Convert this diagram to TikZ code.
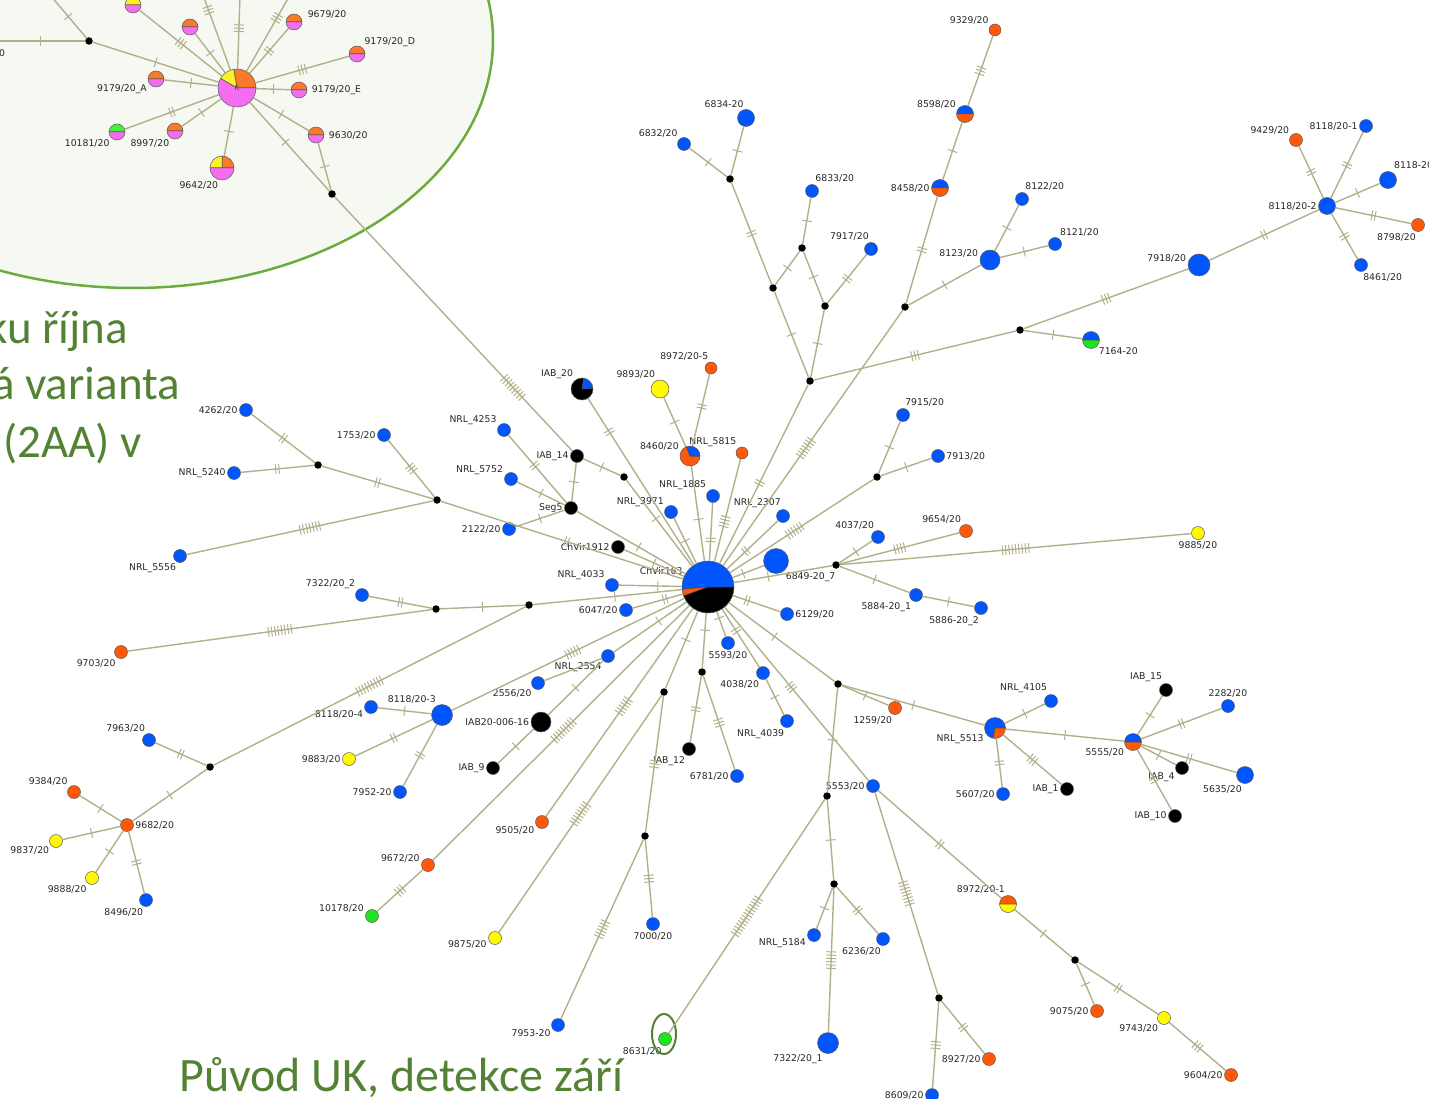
\documentclass[tikz,border=0pt]{standalone}
\usepackage{fontspec}
\setmainfont{DejaVu Sans}
\newfontfamily\slidefont{Carlito}
\usetikzlibrary{decorations.markings}

\definecolor{hblue}{RGB}{0,85,255}
\definecolor{horange}{RGB}{255,88,8}
\definecolor{hyellow}{RGB}{255,250,0}
\definecolor{hgreen}{RGB}{30,230,30}
\definecolor{korange}{RGB}{250,122,45}
\definecolor{kpink}{RGB}{242,110,238}
\definecolor{kyellow}{RGB}{250,240,40}
\definecolor{kgreen}{RGB}{70,240,60}
\definecolor{linkc}{RGB}{178,176,138}
\definecolor{slidegreen}{RGB}{84,130,53}
\definecolor{ellfill}{RGB}{246,248,242}
\definecolor{ellline}{RGB}{108,172,62}

% one coloured sector of a haplotype circle
\newcommand{\slice}[3]{\filldraw[fill=#1, draw=black!70, line width=.5pt] (path picture bounding box.center) -- ++(#2:60pt) arc[start angle=#2, end angle=#3, radius=60pt] -- cycle;}

\begin{document}
\begin{tikzpicture}[x=1pt, y=-1pt,
    every edge/.style={draw=linkc, line width=1.4pt},
    tickline/.style={draw=linkc, line width=1pt},
    mut/.style 2 args={postaction={decorate, decoration={markings, mark=at position #2 with {\foreach \k in {1,...,#1} {\draw[tickline] ({(\k-(#1+1)/2)*3.3},-5) -- ++(0,10);}}}}},
    hap/.style={circle, draw=black!65, line width=.5pt, inner sep=0pt, minimum size=13pt},
    hb/.style={hap, fill=hblue},
    ho/.style={hap, fill=horange},
    hy/.style={hap, fill=hyellow},
    hg/.style={hap, fill=hgreen},
    hk/.style={hap, fill=black},
    half/.style 2 args={hap, path picture={\slice{#1}{0}{180}\slice{#2}{180}{360}}},
    med/.style={circle, fill=black, inner sep=0pt, minimum size=7.5pt},
    lbl/.style={font=\fontsize{9.3}{10}\selectfont, text=black!85, inner sep=1.5pt},
    slide/.style={font=\slidefont\fontsize{48}{52}\selectfont, text=slidegreen, inner sep=0pt}]

\useasboundingbox (0,0) rectangle (1429,1099);

% highlighted cluster
\draw[fill=ellfill, draw=ellline, line width=2.5pt] (133,40) ellipse [x radius=360, y radius=248];

\node[hap, minimum size=38pt, font=\fontsize{7}{7}\selectfont, text=black!70, path picture={\slice{korange}{0}{100}\slice{kyellow}{100}{150}\slice{kpink}{150}{360}}] (K) at (237,88) {K};
\node[half={kyellow}{kpink}, minimum size=16pt, label={[lbl, label distance=10pt]10:9673/20}] (n9673) at (133,5) {};
\node[half={korange}{kpink}, minimum size=16pt] (ne1) at (190,27) {};
\node[half={korange}{kpink}, minimum size=16pt, label={[lbl, label distance=4pt]10:9679/20}] (n9679) at (294,22) {};
\node[half={korange}{kpink}, minimum size=16pt, label={[lbl]45:9179/20\_D}] (n9179d) at (357,54) {};
\node[half={korange}{kpink}, minimum size=16pt, label={[lbl, label distance=3pt]0:9179/20\_E}] (n9179e) at (299,90) {};
\node[half={korange}{kpink}, minimum size=16pt, label={[lbl, label distance=3pt]0:9630/20}] (n9630) at (316,135) {};
\node[hap, minimum size=24pt, path picture={\slice{korange}{0}{90}\slice{kyellow}{90}{180}\slice{kpink}{180}{360}}, label={[lbl]-100:9642/20}] (n9642) at (222,168) {};
\node[half={korange}{kpink}, minimum size=16pt, label={[lbl]-120:8997/20}] (n8997) at (175,131) {};
\node[half={kgreen}{kpink}, minimum size=16pt, label={[lbl]-135:10181/20}] (n10181) at (117,132) {};
\node[half={korange}{kpink}, minimum size=16pt, label={[lbl]-155:9179/20\_A}] (n9179a) at (156,79) {};
\node[med] (mk0) at (89,41) {};
\node[med] (mk1) at (332,194) {};
\node[lbl] (frag) at (2,53) {0};
\coordinate (o1) at (-5,41);
\coordinate (o2) at (50,-5);
\coordinate (o3) at (203,-5);
\coordinate (o4) at (240,-5);
\coordinate (o5) at (290,-5);

% central haplotype and its neighbours
\node[hap, minimum size=52pt, path picture={\slice{hblue}{0}{185}\slice{horange}{185}{200}\slice{black}{200}{360}}, label={[lbl]155:ChVir163}] (hub) at (708,587) {};
\node[hap, minimum size=22pt, path picture={\slice{black}{80}{365}\slice{hblue}{5}{80}}, label={[lbl]130:IAB\_20}] (nIAB20) at (582,389) {};
\node[hy, minimum size=18pt, label={[lbl]110:9893/20}] (n9893) at (660,389) {};
\node[ho, minimum size=12pt, label={[lbl]100:8972/20-5}] (n89725) at (711,368) {};
\node[hap, minimum size=20pt, path picture={\slice{horange}{110}{360}\slice{hblue}{0}{110}}, label={[lbl]160:8460/20}] (n8460) at (690,456) {};
\node[ho, minimum size=12pt, label={[lbl]130:NRL\_5815}] (n5815) at (742,453) {};
\node[hk, label={[lbl]180:IAB\_14}] (nIAB14) at (577,456) {};
\node[med] (mIAB) at (624,477) {};
\node[hk, label={[lbl]180:Seg5}] (nSeg5) at (571,508) {};
\node[hb, label={[lbl]150:NRL\_4253}] (n4253) at (504,430) {};
\node[hb, label={[lbl]160:NRL\_5752}] (n5752) at (511,479) {};
\node[hb, label={[lbl]180:2122/20}] (n2122) at (509,529) {};
\node[hb, label={[lbl]145:NRL\_3971}] (n3971) at (671,512) {};
\node[hb, label={[lbl]140:NRL\_1885}] (n1885) at (713,496) {};
\node[hk, label={[lbl]180:ChVir1912}] (nCh1912) at (618,547) {};
\node[hb, label={[lbl]150:NRL\_4033}] (n4033) at (612,585) {};
\node[hb, label={[lbl]180:6047/20}] (n6047) at (626,610) {};
\node[hb, label={[lbl]95:NRL\_2307}] (n2307) at (783,516) {};
\node[hb, minimum size=25pt, label={[lbl]-50:6849-20\_7}] (n6849) at (776,561) {};
\node[hb, label={[lbl]0:6129/20}] (n6129) at (787,614) {};
\node[hb, label={[lbl]-90:5593/20}] (n5593) at (728,643) {};

% upper branches
\node[med] (mA) at (810,381) {};
\node[med] (mB) at (773,288) {};
\node[med] (mC) at (730,179) {};
\node[med] (mD) at (802,248) {};
\node[med] (mE) at (825,306) {};
\node[med] (mF) at (905,307) {};
\node[med] (mG) at (1020,330) {};
\node[hb, label={[lbl]135:6832/20}] (n6832) at (684,144) {};
\node[hb, minimum size=17pt, label={[lbl]95:6834-20}] (n6834) at (746,118) {};
\node[hb, label={[lbl]75:6833/20}] (n6833) at (812,191) {};
\node[hb, label={[lbl]95:7917/20}] (n7917) at (871,249) {};
\node[half={hblue}{horange}, minimum size=17pt, label={[lbl]180:8458/20}] (n8458) at (940,188) {};
\node[half={hblue}{horange}, minimum size=17pt, label={[lbl]150:8598/20}] (n8598) at (965,114) {};
\node[ho, minimum size=12pt, label={[lbl]140:9329/20}] (n9329) at (995,30) {};
\node[hb, minimum size=20pt, label={[lbl]175:8123/20}] (n8123) at (990,260) {};
\node[hb, label={[lbl]75:8122/20}] (n8122) at (1022,199) {};
\node[hb, label={[lbl]60:8121/20}] (n8121) at (1055,244) {};
\node[half={hblue}{hgreen}, minimum size=17pt, label={[lbl]-45:7164-20}] (n7164) at (1091,340) {};
\node[hb, minimum size=22pt, label={[lbl]175:7918/20}] (n7918) at (1199,265) {};
\node[hb, minimum size=17pt, label={[lbl]180:8118/20-2}] (n8118b) at (1327,206) {};
\node[ho, label={[lbl]140:9429/20}] (n9429) at (1296,140) {};
\node[hb, label={[lbl]180:8118/20-1}] (n8118a) at (1366,126) {};
\node[hb, minimum size=17pt, label={[lbl]60:8118-20\_6}] (n8118f) at (1388,180) {};
\node[ho, label={[lbl]-95:8798/20}] (n8798) at (1418,225) {};
\node[hb, label={[lbl]-85:8461/20}] (n8461) at (1361,265) {};

% right branches
\node[med] (m877) at (877,477) {};
\node[hb, label={[lbl]85:7915/20}] (n7915) at (903,415) {};
\node[hb, label={[lbl]0:7913/20}] (n7913) at (938,456) {};
\node[med] (m836) at (836,565) {};
\node[hb, label={[lbl]110:4037/20}] (n4037) at (878,537) {};
\node[ho, label={[lbl]120:9654/20}] (n9654) at (966,531) {};
\node[hy, label={[lbl]-90:9885/20}] (n9885) at (1198,533) {};
\node[hb, label={[lbl]-120:5884-20\_1}] (n5884) at (916,595) {};
\node[hb, label={[lbl]-95:5886-20\_2}] (n5886) at (981,608) {};

% left branches
\node[med] (mH) at (437,500) {};
\node[med] (mI) at (318,465) {};
\node[hb, label={[lbl]180:4262/20}] (n4262) at (246,410) {};
\node[hb, label={[lbl]180:NRL\_5240}] (n5240) at (234,473) {};
\node[hb, label={[lbl]180:1753/20}] (n1753) at (384,435) {};
\node[hb, label={[lbl]-110:NRL\_5556}] (n5556) at (180,556) {};
\node[med] (mJ) at (436,609) {};
\node[med] (mK2) at (529,605) {};
\node[hb, label={[lbl]140:7322/20\_2}] (n7322b) at (362,595) {};
\node[ho, label={[lbl]-125:9703/20}] (n9703) at (121,652) {};
\node[med] (mL) at (210,767) {};
\node[hb, label={[lbl]110:7963/20}] (n7963) at (149,740) {};
\node[ho, label={[lbl]0:9682/20}] (n9682) at (127,825) {};
\node[ho, label={[lbl]135:9384/20}] (n9384) at (74,792) {};
\node[hy, label={[lbl]-140:9837/20}] (n9837) at (56,841) {};
\node[hy, label={[lbl]-125:9888/20}] (n9888) at (92,878) {};
\node[hb, label={[lbl]-100:8496/20}] (n8496) at (146,900) {};
\node[hb, minimum size=21pt, label={[lbl]115:8118/20-3}] (n8118c) at (442,715) {};
\node[hb, label={[lbl]-160:8118/20-4}] (n8118d) at (371,707) {};
\node[hy, label={[lbl]180:9883/20}] (n9883) at (349,759) {};
\node[hb, label={[lbl]180:7952-20}] (n7952) at (400,792) {};

% lower branches
\node[hb, label={[lbl]-135:NRL\_2554}] (n2554) at (608,656) {};
\node[hb, label={[lbl]-135:2556/20}] (n2556) at (538,683) {};
\node[hk, minimum size=20pt, label={[lbl]180:IAB20-006-16}] (nIAB2016) at (541,722) {};
\node[hk, label={[lbl]180:IAB\_9}] (nIAB9) at (493,768) {};
\node[ho, label={[lbl]-155:9505/20}] (n9505) at (542,822) {};
\node[ho, label={[lbl]170:9672/20}] (n9672) at (428,865) {};
\node[hg, label={[lbl]165:10178/20}] (n10178) at (372,916) {};
\node[hy, label={[lbl]-170:9875/20}] (n9875) at (495,938) {};
\node[med] (m664) at (664,692) {};
\node[med] (m645) at (645,836) {};
\node[hb, label={[lbl]-90:7000/20}] (n7000) at (653,924) {};
\node[hb, label={[lbl]-150:7953-20}] (n7953) at (558,1025) {};
\node[med] (m702) at (702,672) {};
\node[hk, label={[lbl]-110:IAB\_12}] (nIAB12) at (689,749) {};
\node[hb, label={[lbl]180:6781/20}] (n6781) at (737,776) {};
\node[hb, label={[lbl]-110:4038/20}] (n4038) at (763,673) {};
\node[hb, label={[lbl]-100:NRL\_4039}] (n4039) at (787,721) {};
\node[med] (m838) at (838,684) {};
\node[ho, label={[lbl]-100:1259/20}] (n1259) at (895,708) {};
\node[hb, label={[lbl]180:5553/20}] (n5553) at (873,786) {};
\node[med] (m827) at (827,796) {};
\node[hg, label={[lbl]-105:8631/20}] (n8631) at (665,1039) {};
\draw[slidegreen, line width=2pt] (664,1034) ellipse [x radius=12, y radius=20];
\node[med] (m834) at (834,884) {};
\node[hb, label={[lbl]-165:NRL\_5184}] (n5184) at (814,935) {};
\node[hb, label={[lbl]-95:6236/20}] (n6236) at (883,939) {};
\node[hb, minimum size=21pt, label={[lbl]-110:7322/20\_1}] (n7322a) at (828,1043) {};
\node[med] (m939) at (939,998) {};
\node[hb, label={[lbl]180:8609/20}] (n8609) at (932,1095) {};
\node[ho, label={[lbl]180:8927/20}] (n8927) at (989,1059) {};
\node[half={horange}{hyellow}, minimum size=17pt, label={[lbl]100:8972/20-1}] (n89721) at (1008,904) {};
\node[med] (m1075) at (1075,960) {};
\node[ho, label={[lbl]180:9075/20}] (n9075) at (1097,1011) {};
\node[hy, label={[lbl]-130:9743/20}] (n9743) at (1164,1018) {};
\node[ho, label={[lbl]180:9604/20}] (n9604) at (1231,1075) {};
\node[hap, minimum size=21pt, path picture={\slice{hblue}{0}{260}\slice{horange}{260}{360}}, label={[lbl]-155:NRL\_5513}] (n5513) at (995,728) {};
\node[hb, label={[lbl]110:NRL\_4105}] (n4105) at (1051,701) {};
\node[hb, label={[lbl]180:5607/20}] (n5607) at (1003,794) {};
\node[hk, label={[lbl]180:IAB\_1}] (nIAB1) at (1067,789) {};
\node[half={hblue}{horange}, minimum size=17pt, label={[lbl]-145:5555/20}] (n5555) at (1133,742) {};
\node[hk, label={[lbl]110:IAB\_15}] (nIAB15) at (1166,690) {};
\node[hb, label={[lbl]90:2282/20}] (n2282) at (1228,706) {};
\node[hk, label={[lbl]-150:IAB\_4}] (nIAB4) at (1182,768) {};
\node[hb, minimum size=17pt, label={[lbl]-100:5635/20}] (n5635) at (1245,775) {};
\node[hk, label={[lbl]180:IAB\_10}] (nIAB10) at (1175,816) {};

% slide text
\node[slide, anchor=base west, font=\slidefont\fontsize{47}{50}\selectfont] (side1) at (-14,343) {ku října};
\node[slide, anchor=base west, font=\slidefont\fontsize{47}{50}\selectfont] (side2) at (-8,399) {á varianta};
\node[slide, anchor=base west, font=\slidefont\fontsize{47}{50}\selectfont] (side3) at (3,457) {(2AA) v};
\node[slide, anchor=base west] (cap) at (179,1091) {Původ UK, detekce září};

% mutational steps
\path
    (K) edge[mut={3}{.5}] (n9673)
    (K) edge[mut={1}{.5}] (ne1)
    (K) edge[mut={3}{.8}] (o3)
    (K) edge[mut={3}{.55}] (o4)
    (K) edge[mut={3}{.7}] (o5)
    (K) edge[mut={2}{.5}] (n9679)
    (K) edge[mut={3}{.5}] (n9179d)
    (K) edge[mut={1}{.5}] (n9179e)
    (K) edge[mut={1}{.5}] (n9630)
    (K) edge[mut={1}{.45}] (mk1)
    (K) edge[mut={1}{.5}] (n9642)
    (K) edge[mut={1}{.5}] (n8997)
    (K) edge[mut={2}{.5}] (n10181)
    (K) edge[mut={1}{.5}] (n9179a)
    (K) edge[mut={1}{.5}] (mk0)
    (n9630) edge[mut={1}{.5}] (mk1)
    (mk0) edge[mut={1}{.5}] (o1)
    (mk0) edge[mut={1}{.5}] (o2)
    (mk1) edge[mut={9}{.75}] (nIAB14)

    (nIAB20) edge[mut={2}{.2}] (hub)
    (nIAB14) edge[mut={1}{.5}] (mIAB)
    (nIAB14) edge[mut={1}{.5}] (nSeg5)
    (mIAB) edge[mut={1}{.45}] (hub)
    (n4253) edge[mut={2}{.45}] (nSeg5)
    (n5752) edge[mut={1}{.5}] (nSeg5)
    (n2122) edge[mut={1}{.5}] (nSeg5)
    (nSeg5) edge[mut={1}{.57}] (hub)
    (nCh1912) edge[mut={1}{.5}] (hub)
    (mH) edge[mut={2}{.52}] (hub)
    (mH) edge[mut={2}{.5}] (mI)
    (mI) edge[mut={2}{.5}] (n4262)
    (mI) edge[mut={2}{.5}] (n5240)
    (mH) edge[mut={3}{.5}] (n1753)
    (mH) edge[mut={7}{.5}] (n5556)
    (n3971) edge[mut={1}{.5}] (hub)
    (hub) edge[mut={2}{.36}] (n1885)
    (hub) edge[mut={4}{.39}] (n5815)
    (n8460) edge[mut={1}{.56}] (hub)
    (n8460) edge[mut={1}{.5}] (n9893)
    (n8460) edge[mut={2}{.55}] (n89725)
    (n4033) edge[mut={1}{.62}] (hub)
    (n6047) edge[mut={2}{.65}] (hub)
    (mK2) edge[mut={1}{.55}] (hub)
    (mJ) edge[mut={1}{.5}] (mK2)
    (mJ) edge[mut={2}{.5}] (n7322b)
    (mJ) edge[mut={8}{.5}] (n9703)
    (mK2) edge[mut={9}{.5}] (mL)
    (mL) edge[mut={2}{.5}] (n7963)
    (mL) edge[mut={1}{.5}] (n9682)
    (n9682) edge[mut={1}{.5}] (n9384)
    (n9682) edge[mut={1}{.5}] (n9837)
    (n9682) edge[mut={1}{.5}] (n9888)
    (n9682) edge[mut={2}{.5}] (n8496)

    (hub) edge[mut={2}{.45}] (mA)
    (mA) edge[mut={1}{.5}] (mB)
    (mA) edge[mut={1}{.5}] (mE)
    (mA) edge[mut={3}{.5}] (mG)
    (mB) edge[mut={2}{.5}] (mC)
    (mB) edge[mut={1}{.5}] (mD)
    (mC) edge[mut={1}{.5}] (n6832)
    (mC) edge[mut={1}{.5}] (n6834)
    (mD) edge[mut={1}{.5}] (n6833)
    (mD) edge[mut={1}{.5}] (mE)
    (mE) edge[mut={2}{.5}] (n7917)
    (hub) edge[mut={7}{.46}] (mF)
    (mF) edge[mut={2}{.5}] (n8458)
    (n8458) edge[mut={1}{.5}] (n8598)
    (n8598) edge[mut={3}{.5}] (n9329)
    (mF) edge[mut={1}{.5}] (n8123)
    (n8123) edge[mut={1}{.5}] (n8122)
    (n8123) edge[mut={1}{.5}] (n8121)
    (mG) edge[mut={1}{.5}] (n7164)
    (mG) edge[mut={3}{.5}] (n7918)
    (n7918) edge[mut={2}{.5}] (n8118b)
    (n8118b) edge[mut={2}{.5}] (n9429)
    (n8118b) edge[mut={2}{.5}] (n8118a)
    (n8118b) edge[mut={1}{.5}] (n8118f)
    (n8118b) edge[mut={2}{.5}] (n8798)
    (n8118b) edge[mut={2}{.5}] (n8461)

    (hub) edge[mut={2}{.37}] (n2307)
    (hub) edge[mut={1}{.34}] (n6849)
    (hub) edge[mut={2}{.3}] (n6129)
    (hub) edge[mut={1}{.25}] (n5593)
    (hub) edge[mut={6}{.45}] (m877)
    (m877) edge[mut={1}{.5}] (n7915)
    (m877) edge[mut={1}{.5}] (n7913)
    (hub) edge[mut={1}{.35}] (m836)
    (m836) edge[mut={1}{.5}] (n4037)
    (m836) edge[mut={4}{.5}] (n9654)
    (m836) edge[mut={9}{.5}] (n9885)
    (m836) edge[mut={1}{.5}] (n5884)
    (n5884) edge[mut={1}{.5}] (n5886)

    (n8118c) edge[mut={5}{.52}] (hub)
    (n8118c) edge[mut={1}{.5}] (n8118d)
    (n8118c) edge[mut={2}{.5}] (n9883)
    (n8118c) edge[mut={2}{.5}] (n7952)
    (n2554) edge[mut={1}{.62}] (hub)
    (n2556) edge (n2554)
    (nIAB2016) edge[mut={1}{.5}] (n2554)
    (nIAB9) edge[mut={1}{.5}] (nIAB2016)
    (n9505) edge[mut={6}{.53}] (hub)
    (n9672) edge[mut={9}{.51}] (hub)
    (n9672) edge[mut={3}{.5}] (n10178)
    (m664) edge[mut={1}{.63}] (hub)
    (m664) edge[mut={8}{.5}] (n9875)
    (m664) edge[mut={3}{.5}] (m645)
    (m645) edge[mut={3}{.5}] (n7000)
    (m645) edge[mut={6}{.5}] (n7953)
    (m702) edge[mut={1}{.69}] (hub)
    (m702) edge[mut={2}{.5}] (nIAB12)
    (m702) edge[mut={3}{.5}] (n6781)
    (n4038) edge[mut={2}{.63}] (hub)
    (n4038) edge[mut={1}{.5}] (n4039)
    (m838) edge[mut={1}{.57}] (hub)
    (m838) edge[mut={1}{.5}] (n1259)
    (m838) edge[mut={1}{.5}] (n5513)
    (m838) edge[mut={1}{.5}] (m827)
    (n5553) edge[mut={3}{.54}] (hub)
    (m827) edge[mut={14}{.5}] (n8631)
    (m827) edge[mut={1}{.5}] (m834)
    (m834) edge[mut={1}{.5}] (n5184)
    (m834) edge[mut={2}{.5}] (n6236)
    (m834) edge[mut={6}{.5}] (n7322a)
    (n5553) edge[mut={8}{.5}] (m939)
    (m939) edge[mut={3}{.5}] (n8609)
    (m939) edge[mut={2}{.5}] (n8927)
    (n5553) edge[mut={2}{.5}] (n89721)
    (n89721) edge[mut={1}{.5}] (m1075)
    (m1075) edge[mut={1}{.5}] (n9075)
    (m1075) edge[mut={2}{.5}] (n9743)
    (n9743) edge[mut={3}{.5}] (n9604)
    (n5513) edge[mut={1}{.5}] (n4105)
    (n5513) edge[mut={2}{.5}] (n5607)
    (n5513) edge[mut={3}{.5}] (nIAB1)
    (n5513) edge[mut={1}{.5}] (n5555)
    (n5555) edge[mut={1}{.5}] (nIAB15)
    (n5555) edge[mut={2}{.5}] (n2282)
    (n5555) edge[mut={1}{.5}] (nIAB4)
    (n5555) edge[mut={2}{.5}] (n5635)
    (n5555) edge[mut={2}{.5}] (nIAB10)
;
\end{tikzpicture}
\end{document}
